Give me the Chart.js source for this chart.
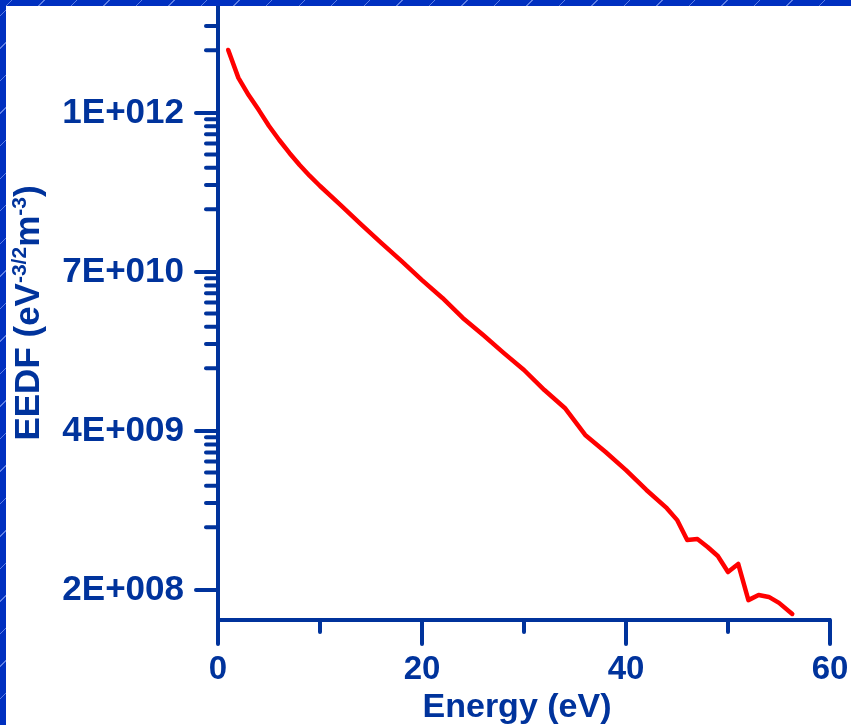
<!DOCTYPE html>
<html>
<head>
<meta charset="utf-8">
<script src="https://cdn.jsdelivr.net/npm/chart.js@4.4.1/dist/chart.umd.min.js"></script>
<style>
  html, body { margin:0; padding:0; background:#fff; }
  #wrap { position:relative; width:851px; height:725px; overflow:hidden; }
  .frame { position:absolute; z-index:2; background-color:#0030c0;
    background-image: repeating-linear-gradient(-45deg, rgba(255,255,255,0) 0 22px, rgba(170,190,255,0.55) 22px 23px); }
  #frameTop { left:0; top:0; width:851px; height:6px; }
  #frameLeft { left:0; top:0; width:6px; height:725px; }
</style>
</head>
<body>
<div id="wrap">
  <canvas id="chart" width="851" height="725"></canvas>
  <div class="frame" id="frameTop"></div>
  <div class="frame" id="frameLeft"></div>
</div>
<script>
// ===== data =====
const energy = [1, 2, 3, 4, 5, 6, 7, 8, 9, 10, 12, 14, 16, 18, 20, 22, 24, 26, 28, 30,
  32, 34, 36, 38, 40, 42, 44, 45, 46, 47, 48, 49, 50, 51, 52, 53, 54, 55, 56.3];
const eedf = [2.87e12, 1.80e12, 1.35e12, 1.05e12, 8.05e11, 6.37e11, 5.13e11, 4.19e11, 3.49e11, 2.95e11,
  2.15e11, 1.56e11, 1.14e11, 8.41e10, 6.12e10, 4.54e10, 3.25e10, 2.44e10, 1.81e10, 1.36e10,
  9.73e9, 7.21e9, 4.59e9, 3.45e9, 2.55e9, 1.83e9, 1.35e9, 1.11e9, 7.92e8, 8.05e8,
  7.05e8, 6.07e8, 4.64e8, 5.31e8, 2.90e8, 3.16e8, 3.06e8, 2.77e8, 2.30e8];

// y axis (log): labelled ticks and their texts as printed on the original
const yMajor = [1e12, 7.0e10, 4.9e9, 3.43e8];
const yLabels = ['1E+012', '7E+010', '4E+009', '2E+008'];
const yMinor = [4.28e12, 2.86e12,
  9e11, 8e11, 7e11, 6e11, 5e11, 4e11, 3e11, 2e11,
  6.3e10, 5.6e10, 4.9e10, 4.2e10, 3.5e10, 2.8e10, 2.1e10, 1.4e10,
  4.41e9, 3.92e9, 3.43e9, 2.94e9, 2.45e9, 1.96e9, 1.47e9, 9.8e8];
const yMin = 2.08e8, yMax = 5.79e12;

const xMajor = [0, 20, 40, 60];
const xMinor = [10, 30, 50];

const AXIS = '#00339c';
const FONT = "'Liberation Sans', Arial, sans-serif";

// ===== ticks + axis titles =====
const decor = {
  id: 'decor',
  afterDraw(chart){
    const { ctx, chartArea: a, scales: { x, y } } = chart;
    ctx.save();
    ctx.strokeStyle = AXIS; ctx.lineWidth = 4; ctx.lineCap = 'round';
    const seg = (x1, y1, x2, y2) => { ctx.beginPath(); ctx.moveTo(x1, y1); ctx.lineTo(x2, y2); ctx.stroke(); };
    yMajor.forEach(v => { const p = y.getPixelForValue(v); seg(a.left - 22, p, a.left, p); });
    yMinor.forEach(v => { const p = y.getPixelForValue(v); seg(a.left - 12, p, a.left, p); });
    xMajor.forEach(v => { const p = x.getPixelForValue(v); seg(p, a.bottom, p, a.bottom + 24); });
    xMinor.forEach(v => { const p = x.getPixelForValue(v); seg(p, a.bottom, p, a.bottom + 12); });

    ctx.fillStyle = AXIS;
    // x title
    ctx.font = 'bold 34px ' + FONT;
    ctx.textAlign = 'center'; ctx.textBaseline = 'alphabetic';
    ctx.fillText('Energy (eV)', 517, 717);

    // y title with superscripts
    const parts = [['EEDF (eV', 0], ['-3/2', 1], ['m', 0], ['-3', 1], [')', 0]];
    const big = 'bold 35px ' + FONT, small = 'bold 21px ' + FONT;
    let w = 0;
    parts.forEach(p => { ctx.font = p[1] ? small : big; w += ctx.measureText(p[0]).width; });
    ctx.translate(39, 313);
    ctx.rotate(-Math.PI / 2);
    ctx.textAlign = 'left';
    let u = -w / 2;
    parts.forEach(p => {
      ctx.font = p[1] ? small : big;
      ctx.fillText(p[0], u, p[1] ? -13 : 0);
      u += ctx.measureText(p[0]).width;
    });
    ctx.restore();
  }
};

new Chart(document.getElementById('chart'), {
  type: 'line',
  data: {
    datasets: [{
      data: energy.map((e, i) => ({ x: e, y: eedf[i] })),
      borderColor: '#ff0000',
      borderWidth: 4.5,
      borderJoinStyle: 'round',
      borderCapStyle: 'round',
      pointRadius: 0,
      tension: 0,
      fill: false
    }]
  },
  options: {
    responsive: false,
    animation: false,
    layout: { padding: { left: 0, right: 21, top: 8, bottom: 0 } },
    plugins: { legend: { display: false }, tooltip: { enabled: false } },
    scales: {
      x: {
        type: 'linear', min: 0, max: 60,
        grid: { display: false, drawTicks: false },
        border: { display: true, color: AXIS, width: 4 },
        ticks: { stepSize: 20, color: AXIS, padding: 30, font: { family: FONT, size: 33, weight: 'bold' } },
        afterFit(s){ s.height = 105; s.paddingLeft = 0; s.paddingRight = 0; }
      },
      y: {
        type: 'logarithmic', min: yMin, max: yMax,
        grid: { display: false, drawTicks: false },
        border: { display: true, color: AXIS, width: 4 },
        ticks: {
          color: AXIS, padding: 34,
          font: { family: FONT, size: 35, weight: 'bold' },
          callback: v => yLabels[yMajor.indexOf(v)]
        },
        afterBuildTicks(s){ s.ticks = yMajor.map(v => ({ value: v })); },
        afterFit(s){ s.width = 218; s.paddingTop = 0; s.paddingBottom = 0; }
      }
    }
  },
  plugins: [decor]
});
</script>
</body>
</html>
